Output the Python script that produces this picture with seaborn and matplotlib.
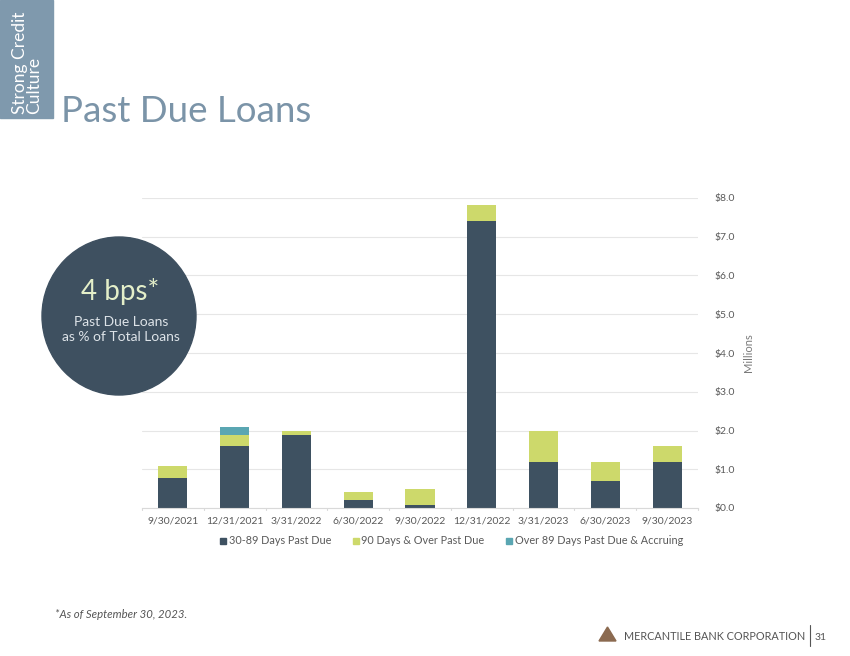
import matplotlib
matplotlib.use("Agg")
import matplotlib.pyplot as plt
import seaborn as sns
import pandas as pd
import numpy as np
from matplotlib.patches import Rectangle, Ellipse, Polygon
from matplotlib.lines import Line2D

# ---- data ----
quarters = ["9/30/2021", "12/31/2021", "3/31/2022", "6/30/2022", "9/30/2022",
            "12/31/2022", "3/31/2023", "6/30/2023", "9/30/2023"]
days_30_89 = [0.78, 1.59, 1.88, 0.21, 0.09, 7.40, 1.18, 0.69, 1.18]
days_90_over = [0.31, 0.29, 0.12, 0.20, 0.41, 0.41, 0.82, 0.51, 0.41]
over_89_accruing = [0.00, 0.21, 0.00, 0.00, 0.00, 0.00, 0.00, 0.00, 0.00]
series_names = ["30-89 Days Past Due", "90 Days & Over Past Due",
                "Over 89 Days Past Due & Accruing"]
y_ticks = [0, 1, 2, 3, 4, 5, 6, 7, 8]

c_dark = "#3E5161"
c_green = "#CDD96B"
c_teal = "#5AA6B2"
c_title = "#7B94A8"
c_text = "#5A5A5A"

sns.set_theme(style="white")
plt.rcParams["font.family"] = ["Lato", "DejaVu Sans"]

W, H = 850, 656
fig = plt.figure(figsize=(W / 100, H / 100), dpi=100)

def fx(px):
    return px / W

def fy(py):
    return 1 - py / H

ax = fig.add_axes([fx(142), fy(508), fx(698) - fx(142), fy(198) - fy(508)])

df = pd.DataFrame({
    "quarter": quarters,
    "a": days_30_89,
    "b": days_90_over,
    "c": over_89_accruing,
})
df["ab"] = df["a"] + df["b"]
df["abc"] = df["ab"] + df["c"]

w = 0.47
sns.barplot(data=df, x="quarter", y="abc", color=c_teal, width=w, ax=ax,
            saturation=1, edgecolor="none", linewidth=0)
sns.barplot(data=df, x="quarter", y="ab", color=c_green, width=w, ax=ax,
            saturation=1, edgecolor="none", linewidth=0)
sns.barplot(data=df, x="quarter", y="a", color=c_dark, width=w, ax=ax,
            saturation=1, edgecolor="none", linewidth=0)

ax.set_ylim(0, 8)
ax.set_xlim(-0.5, len(quarters) - 0.5)
ax.set_yticks(y_ticks)
ax.set_yticklabels([f"${v:.1f}" for v in y_ticks])
ax.yaxis.tick_right()
ax.yaxis.set_label_position("right")
ax.set_ylabel("Millions", color="#7a7a7a", fontsize=8, labelpad=6)
ax.set_xlabel("")
ax.tick_params(axis="y", length=0, labelsize=7.5, labelcolor=c_text, pad=12)
ax.tick_params(axis="x", length=0, labelsize=7.5, labelcolor=c_text, pad=6)
ax.grid(axis="y", color="#E6E6E6", linewidth=0.8)
ax.set_axisbelow(True)
for s in ["top", "left", "right"]:
    ax.spines[s].set_visible(False)
ax.spines["bottom"].set_color("#D9D9D9")
ax.spines["bottom"].set_linewidth(0.8)
# small category separators on baseline
for i in range(len(quarters) + 1):
    ax.plot([i - 0.5, i - 0.5], [0, -0.06], color="#D9D9D9", lw=0.8,
            clip_on=False, transform=ax.transData)

# legend
handles = [
    Line2D([], [], marker="s", linestyle="none", color=c_dark, markersize=5),
    Line2D([], [], marker="s", linestyle="none", color=c_green, markersize=5),
    Line2D([], [], marker="s", linestyle="none", color=c_teal, markersize=5),
]
fig.legend(handles, series_names, loc="center", bbox_to_anchor=(fx(451), fy(541)),
           ncol=3, frameon=False, fontsize=7.8, labelcolor=c_text,
           handletextpad=0.1, columnspacing=1.9, handlelength=0.8)

# side tab
fig.add_artist(Rectangle((0, fy(118)), fx(53), fy(0) - fy(118),
                         transform=fig.transFigure, color="#7F99AD", zorder=0))
fig.text(fx(27), fy(114), "Strong Credit\nCulture", rotation=90, color="white",
         fontsize=12.5, ha="center", va="bottom", linespacing=0.85,
         multialignment="left")

# title
fig.text(fx(61), fy(122), "Past Due Loans", color=c_title, fontsize=26.5,
         ha="left", va="baseline")

# circle callout
fig.add_artist(Ellipse((fx(119), fy(316)), fx(154), fy(0) - fy(158),
                       transform=fig.transFigure, color="#3E5060", zorder=5))
fig.text(fx(120), fy(300), "4 bps*", color="#E4EFC9", fontsize=20,
         ha="center", va="baseline", zorder=6)
fig.text(fx(121), fy(326), "Past Due Loans", color="#DDE3E8", fontsize=10,
         ha="center", va="baseline", zorder=6)
fig.text(fx(121), fy(341), "as % of Total Loans", color="#DDE3E8", fontsize=10,
         ha="center", va="baseline", zorder=6)

# footnote
fig.text(fx(55), fy(618), "*As of September 30, 2023.", color="#555555",
         fontsize=8.2, style="italic", ha="left", va="baseline")

# footer logo
fig.add_artist(Polygon([[fx(599), fy(641)], [fx(616), fy(641)], [fx(607.5), fy(627)]],
                       closed=True, transform=fig.transFigure, color="#8B6A50"))
fig.text(fx(624), fy(640), "MERCANTILE BANK CORPORATION", color="#555555",
         fontsize=7.8, ha="left", va="baseline")
fig.add_artist(Line2D([fx(810), fx(810)], [fy(625), fy(646)], color="#555555",
                      lw=0.8, transform=fig.transFigure))
fig.text(fx(815), fy(640), "31", color="#555555", fontsize=7.5, ha="left",
         va="baseline")

fig.savefig("out.png", dpi=100)
